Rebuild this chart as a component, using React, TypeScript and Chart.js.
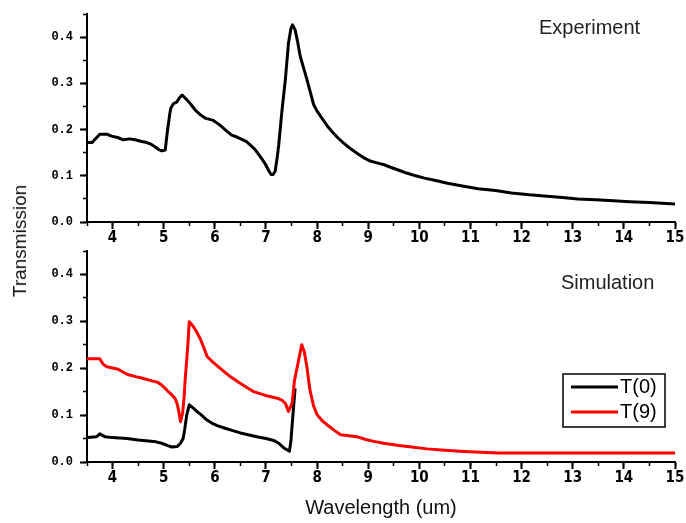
import React, { useEffect, useRef } from 'react';
import { Chart, registerables } from 'chart.js';

Chart.register(...registerables);

// ---------- Data ----------
const EXP_X = [3.5, 3.6, 3.68, 3.75, 3.89, 3.98, 4.1, 4.21, 4.33, 4.44, 4.55, 4.67, 4.76, 4.83, 4.9, 4.96, 5.03, 5.06, 5.08, 5.12, 5.14, 5.19, 5.26, 5.3, 5.36, 5.45, 5.53, 5.62, 5.72, 5.81, 5.97, 6.06, 6.14, 6.24, 6.33, 6.43, 6.53, 6.62, 6.69, 6.78, 6.86, 6.93, 6.99, 7.05, 7.1, 7.14, 7.18, 7.22, 7.25, 7.31, 7.38, 7.44, 7.49, 7.52, 7.57, 7.62, 7.67, 7.74, 7.8, 7.87, 7.93, 8.0, 8.1, 8.2, 8.29, 8.4, 8.52, 8.65, 8.78, 8.9, 9.04, 9.17, 9.31, 9.45, 9.6, 9.75, 9.93, 10.1, 10.32, 10.55, 10.84, 11.15, 11.49, 11.8, 12.15, 12.5, 12.8, 13.1, 13.45, 13.8, 14.11, 14.5, 15.0];
const EXP_Y = [0.172, 0.172, 0.182, 0.19, 0.19, 0.186, 0.183, 0.178, 0.18, 0.178, 0.175, 0.172, 0.168, 0.163, 0.157, 0.154, 0.156, 0.185, 0.203, 0.235, 0.247, 0.256, 0.26, 0.268, 0.275, 0.265, 0.255, 0.242, 0.232, 0.225, 0.22, 0.213, 0.206, 0.196, 0.188, 0.184, 0.179, 0.174, 0.167, 0.158, 0.146, 0.135, 0.125, 0.112, 0.103, 0.103, 0.11, 0.14, 0.167, 0.238, 0.309, 0.387, 0.42, 0.427, 0.416, 0.39, 0.359, 0.332, 0.309, 0.28, 0.255, 0.24, 0.224, 0.208, 0.196, 0.183, 0.171, 0.159, 0.149, 0.14, 0.132, 0.128, 0.124, 0.118, 0.112, 0.106, 0.1, 0.095, 0.09, 0.084, 0.078, 0.072, 0.068, 0.063, 0.059, 0.056, 0.053, 0.05, 0.048, 0.046, 0.044, 0.042, 0.039];

const T0_X = [3.5, 3.69, 3.75, 3.85, 4.0, 4.28, 4.5, 4.7, 4.85, 4.96, 5.08, 5.16, 5.26, 5.33, 5.38, 5.41, 5.45, 5.5, 5.58, 5.66, 5.74, 5.84, 5.94, 6.06, 6.2, 6.35, 6.5, 6.65, 6.82, 7.0, 7.15, 7.25, 7.35, 7.46, 7.49, 7.53, 7.57];
const T0_Y = [0.052, 0.054, 0.06, 0.054, 0.052, 0.05, 0.047, 0.045, 0.043, 0.04, 0.035, 0.032, 0.033, 0.04, 0.05, 0.069, 0.1, 0.122, 0.115, 0.107, 0.1, 0.09, 0.083, 0.077, 0.072, 0.067, 0.062, 0.058, 0.054, 0.05, 0.046, 0.04, 0.03, 0.023, 0.047, 0.104, 0.157];

const T9_X = [3.5, 3.75, 3.82, 3.89, 4.11, 4.2, 4.31, 4.45, 4.57, 4.77, 4.88, 4.96, 5.03, 5.09, 5.16, 5.22, 5.26, 5.29, 5.33, 5.37, 5.4, 5.42, 5.47, 5.5, 5.58, 5.65, 5.71, 5.78, 5.85, 5.95, 6.07, 6.2, 6.33, 6.45, 6.58, 6.76, 6.99, 7.22, 7.31, 7.38, 7.44, 7.51, 7.56, 7.64, 7.7, 7.75, 7.8, 7.86, 7.93, 8.0, 8.1, 8.2, 8.33, 8.46, 8.62, 8.78, 8.95, 9.11, 9.3, 9.6, 9.85, 10.15, 10.5, 10.87, 11.2, 11.55, 15.0];
const T9_Y = [0.22, 0.22, 0.208, 0.203, 0.198, 0.192, 0.186, 0.182, 0.179, 0.173, 0.17, 0.164, 0.157, 0.15, 0.143, 0.136, 0.125, 0.111, 0.086, 0.104, 0.14, 0.175, 0.246, 0.299, 0.289, 0.276, 0.264, 0.245, 0.225, 0.214, 0.203, 0.191, 0.18, 0.171, 0.162, 0.15, 0.142, 0.136, 0.132, 0.125, 0.108, 0.125, 0.175, 0.218, 0.25, 0.235, 0.203, 0.154, 0.12, 0.101, 0.088, 0.079, 0.068, 0.058, 0.056, 0.054, 0.048, 0.044, 0.04, 0.035, 0.032, 0.028, 0.025, 0.0226, 0.021, 0.019, 0.019];

const X_MAJOR_TICKS = [4, 5, 6, 7, 8, 9, 10, 11, 12, 13, 14, 15];
const X_MINOR_TICKS = [3.5, 4, 4.5, 5, 5.5, 6, 6.5, 7, 7.5, 8, 8.5, 9, 9.5, 10, 10.5, 11, 11.5, 12, 12.5, 13, 13.5, 14, 14.5, 15];
const Y_MAJOR_TICKS = [0, 0.1, 0.2, 0.3, 0.4];
const Y_MINOR_TICKS = [0, 0.05, 0.1, 0.15, 0.2, 0.25, 0.3, 0.35, 0.4, 0.45];

const X_MIN = 3.5;
const X_MAX = 15;
const Y_MIN = 0;
const Y_MAX = 0.45;

const TOP_LABEL = 'Experiment';
const BOTTOM_LABEL = 'Simulation';
const X_TITLE = 'Wavelength (um)';
const Y_TITLE = 'Transmission';
const SERIES_LABELS = ['T(0)', 'T(9)'];

// ---------- Styles ----------
const SANS = "'Liberation Sans', Arial, sans-serif";
const X_TICK_FONT = { family: "'Liberation Sans Narrow', 'DejaVu Sans Condensed', 'Liberation Sans', sans-serif", size: 15, weight: 'bold' as const };
const Y_TICK_FONT = { family: "'Liberation Mono', 'DejaVu Sans Mono', monospace", size: 12, weight: 'bold' as const };

const toPoints = (xs: number[], ys: number[]) => xs.map((x, i) => ({ x, y: ys[i] }));

function makeScales(xHeight: number, withTitle: boolean) {
  return {
    x: {
      type: 'linear',
      position: 'bottom',
      min: X_MIN,
      max: X_MAX,
      weight: 1,
      afterBuildTicks: (s: any) => { s.ticks = X_MAJOR_TICKS.map((v) => ({ value: v })); },
      afterFit: (s: any) => { s.height = xHeight; },
      grid: { display: true, drawOnChartArea: false, drawTicks: true, tickLength: 7, tickWidth: 2, tickColor: '#000' },
      border: { display: true, color: '#000', width: 2 },
      ticks: { autoSkip: false, maxRotation: 0, padding: 0, color: '#000', font: X_TICK_FONT, callback: (v: any) => String(v) },
      title: withTitle
        ? { display: true, text: X_TITLE, color: '#111', font: { family: SANS, size: 20, lineHeight: 1 }, padding: { top: 0, bottom: 5 } }
        : { display: false },
    },
    xm: {
      type: 'linear',
      position: 'bottom',
      min: X_MIN,
      max: X_MAX,
      weight: 0,
      afterBuildTicks: (s: any) => { s.ticks = X_MINOR_TICKS.map((v) => ({ value: v })); },
      afterFit: (s: any) => { s.height = 0; },
      grid: { display: true, drawOnChartArea: false, drawTicks: true, tickLength: 4, tickWidth: 1.5, tickColor: '#000' },
      border: { display: false },
      ticks: { display: false },
    },
    y: {
      type: 'linear',
      position: 'left',
      min: Y_MIN,
      max: Y_MAX,
      weight: 1,
      afterBuildTicks: (s: any) => { s.ticks = Y_MAJOR_TICKS.map((v) => ({ value: v })); },
      afterFit: (s: any) => { s.width = 87; },
      grid: { display: true, drawOnChartArea: false, drawTicks: true, tickLength: 7, tickWidth: 2, tickColor: '#000' },
      border: { display: true, color: '#000', width: 2 },
      ticks: { autoSkip: false, padding: 7, color: '#000', font: Y_TICK_FONT, callback: (v: any) => Number(v).toFixed(1) },
    },
    ym: {
      type: 'linear',
      position: 'left',
      min: Y_MIN,
      max: Y_MAX,
      weight: 0,
      afterBuildTicks: (s: any) => { s.ticks = Y_MINOR_TICKS.map((v) => ({ value: v })); },
      afterFit: (s: any) => { s.width = 0; },
      grid: { display: true, drawOnChartArea: false, drawTicks: true, tickLength: 4, tickWidth: 1.5, tickColor: '#000' },
      border: { display: false },
      ticks: { display: false },
    },
  };
}

const panelText = {
  id: 'panelText',
  afterDraw(chart: any, _args: any, opts: any) {
    if (!opts || !opts.text) return;
    const { ctx, scales } = chart;
    ctx.save();
    ctx.font = `20px ${SANS}`;
    ctx.fillStyle = '#222';
    ctx.textAlign = 'left';
    ctx.textBaseline = 'middle';
    ctx.fillText(opts.text, scales.x.getPixelForValue(opts.x), scales.y.getPixelForValue(opts.y));
    ctx.restore();
  },
};

const boxLegend = {
  id: 'boxLegend',
  afterDraw(chart: any, _args: any, opts: any) {
    if (!opts || !opts.display) return;
    const { ctx, chartArea } = chart;
    const w = 102;
    const h = 53;
    const right = chartArea.right - 10;
    const bottom = chartArea.bottom - 35;
    const left = right - w;
    const top = bottom - h;
    ctx.save();
    ctx.fillStyle = '#fff';
    ctx.fillRect(left, top, w, h);
    ctx.strokeStyle = '#000';
    ctx.lineWidth = 1.5;
    ctx.strokeRect(left, top, w, h);
    chart.data.datasets.forEach((ds: any, i: number) => {
      const y = top + 13 + i * 25;
      ctx.strokeStyle = ds.borderColor;
      ctx.lineWidth = 3;
      ctx.beginPath();
      ctx.moveTo(left + 8, y);
      ctx.lineTo(left + 55, y);
      ctx.stroke();
      ctx.fillStyle = '#000';
      ctx.font = `20px ${SANS}`;
      ctx.textAlign = 'left';
      ctx.textBaseline = 'middle';
      ctx.fillText(ds.label, left + 57, y);
    });
    ctx.restore();
  },
};

export default function App() {
  const topRef = useRef<HTMLCanvasElement>(null);
  const botRef = useRef<HTMLCanvasElement>(null);

  useEffect(() => {
    const common = {
      responsive: false,
      maintainAspectRatio: false,
      animation: false,
      devicePixelRatio: 1,
      events: [],
    };
    const top = new Chart(topRef.current as HTMLCanvasElement, {
      type: 'line',
      data: {
        datasets: [
          { label: TOP_LABEL, data: toPoints(EXP_X, EXP_Y), borderColor: '#000', backgroundColor: '#000', borderWidth: 3, pointRadius: 0, tension: 0, fill: false, borderJoinStyle: 'round' },
        ],
      },
      options: {
        ...common,
        layout: { padding: { left: 0, right: 11, top: 11, bottom: 271 } },
        scales: makeScales(30, false) as any,
        plugins: {
          legend: { display: false },
          tooltip: { enabled: false },
          panelText: { text: TOP_LABEL, x: 12.34, y: 0.419 },
        } as any,
      } as any,
      plugins: [panelText],
    } as any);

    const bot = new Chart(botRef.current as HTMLCanvasElement, {
      type: 'line',
      data: {
        datasets: [
          { label: SERIES_LABELS[0], data: toPoints(T0_X, T0_Y), borderColor: '#000', backgroundColor: '#000', borderWidth: 3, pointRadius: 0, tension: 0, fill: false, order: 1, borderJoinStyle: 'round' },
          { label: SERIES_LABELS[1], data: toPoints(T9_X, T9_Y), borderColor: '#ff0000', backgroundColor: '#ff0000', borderWidth: 3, pointRadius: 0, tension: 0, fill: false, order: 0, borderJoinStyle: 'round' },
        ],
      },
      options: {
        ...common,
        layout: { padding: { left: 0, right: 11, top: 251, bottom: 0 } },
        scales: makeScales(61, true) as any,
        plugins: {
          legend: { display: false },
          tooltip: { enabled: false },
          panelText: { text: BOTTOM_LABEL, x: 12.77, y: 0.381 },
          boxLegend: { display: true },
        } as any,
      } as any,
      plugins: [panelText, boxLegend],
    } as any);

    return () => {
      top.destroy();
      bot.destroy();
    };
  }, []);

  return (
    <div style={{ position: 'fixed', left: 0, top: 0, width: 686, height: 523, background: '#fff', overflow: 'hidden' }}>
      <canvas ref={botRef} width={686} height={523} style={{ position: 'absolute', left: 0, top: 0 }} />
      <canvas ref={topRef} width={686} height={523} style={{ position: 'absolute', left: 0, top: 0 }} />
      <div
        style={{
          position: 'absolute',
          left: 20,
          top: 241,
          transform: 'translate(-50%, -50%) rotate(-90deg)',
          font: `19px ${SANS}`,
          color: '#111',
          whiteSpace: 'nowrap',
        }}
      >
        {Y_TITLE}
      </div>
    </div>
  );
}
